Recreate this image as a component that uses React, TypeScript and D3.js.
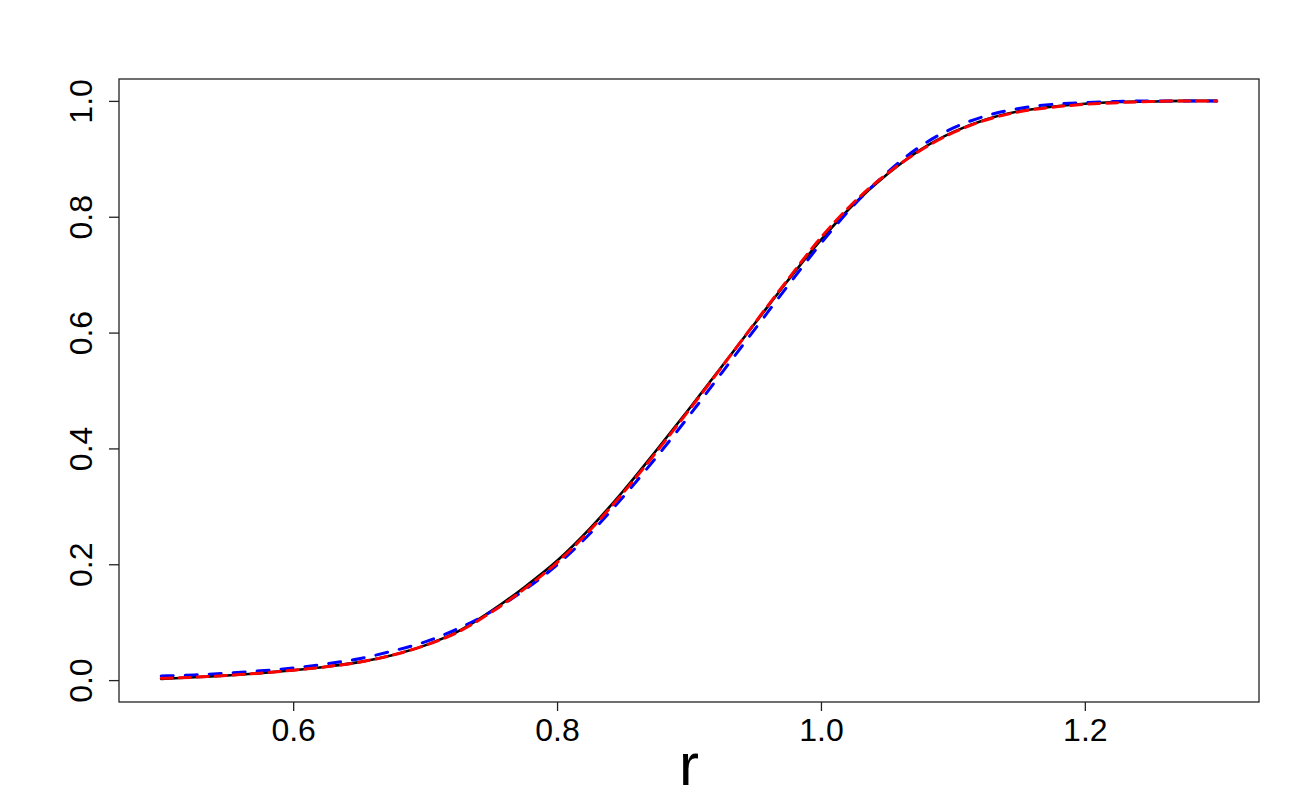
import React, { useEffect, useRef } from 'react'
import * as d3 from 'd3'

// r grid, step 0.025
const rValues = [
  0.5, 0.525, 0.55, 0.575, 0.6, 0.625, 0.65, 0.675, 0.7, 0.725, 0.75, 0.775,
  0.8, 0.825, 0.85, 0.875, 0.9, 0.925, 0.95, 0.975, 1.0, 1.025, 1.05, 1.075,
  1.1, 1.125, 1.15, 1.175, 1.2, 1.225, 1.25, 1.275, 1.3
]

// black solid curve
const blackValues = [
  0.002, 0.005, 0.008, 0.012, 0.017, 0.023, 0.031, 0.043, 0.06, 0.084, 0.119,
  0.16, 0.206, 0.262, 0.326, 0.396, 0.468, 0.542, 0.616, 0.69, 0.76, 0.822,
  0.873, 0.915, 0.946, 0.968, 0.982, 0.99, 0.995, 0.998, 0.999, 1.0, 1.0
]

// red dashed curve
const redValues = [
  0.003, 0.005, 0.008, 0.012, 0.017, 0.023, 0.031, 0.043, 0.06, 0.083, 0.117,
  0.157, 0.203, 0.259, 0.323, 0.393, 0.466, 0.541, 0.617, 0.692, 0.764, 0.825,
  0.874, 0.914, 0.945, 0.967, 0.981, 0.989, 0.994, 0.997, 0.999, 1.0, 1.0
]

// blue dashed curve
const blueValues = [
  0.007, 0.009, 0.012, 0.016, 0.021, 0.028, 0.037, 0.05, 0.066, 0.089, 0.118,
  0.155, 0.199, 0.253, 0.316, 0.384, 0.456, 0.531, 0.606, 0.681, 0.754, 0.82,
  0.876, 0.921, 0.953, 0.974, 0.987, 0.994, 0.997, 0.999, 1.0, 1.0, 1.0
]

const xTicks = [0.6, 0.8, 1.0, 1.2]
const yTicks = [0.0, 0.2, 0.4, 0.6, 0.8, 1.0]

const FONT = '"Liberation Sans", Arial, Helvetica, sans-serif'

export default function App() {
  const ref = useRef<SVGSVGElement>(null)

  useEffect(() => {
    const svg = d3.select(ref.current)
    svg.selectAll('*').remove()

    const left = 119
    const right = 1259
    const top = 79
    const bottom = 702

    const xScale = d3.scaleLinear().domain([0.468, 1.332]).range([left, right])
    const yScale = d3.scaleLinear().domain([-0.0378, 1.0378]).range([bottom, top])

    // curves
    const line = d3
      .line<[number, number]>()
      .x(d => xScale(d[0]))
      .y(d => yScale(d[1]))
      .curve(d3.curveMonotoneX)

    const series = [
      { values: blackValues, color: '#000000', width: 2.6, dash: null },
      { values: blueValues, color: '#0000ff', width: 3, dash: '12,12' },
      { values: redValues, color: '#ff0000', width: 3, dash: '11,7' }
    ]

    series.forEach(s => {
      const pts: [number, number][] = rValues.map((r, i) => [r, s.values[i]])
      svg
        .append('path')
        .attr('d', line(pts))
        .attr('fill', 'none')
        .attr('stroke', s.color)
        .attr('stroke-width', s.width)
        .attr('stroke-linecap', 'round')
        .attr('stroke-linejoin', 'round')
        .attr('stroke-dasharray', s.dash)
    })

    // plot box
    svg
      .append('rect')
      .attr('x', left)
      .attr('y', top)
      .attr('width', right - left)
      .attr('height', bottom - top)
      .attr('fill', 'none')
      .attr('stroke', '#222')
      .attr('stroke-width', 1.3)

    // x axis
    const xAxis = svg
      .append('g')
      .attr('transform', `translate(0, ${bottom})`)
      .call(
        d3
          .axisBottom(xScale)
          .tickValues(xTicks)
          .tickSize(9)
          .tickPadding(0)
          .tickFormat(d3.format('.1f'))
      )
    xAxis.select('.domain').remove()
    xAxis.selectAll('line').attr('stroke', '#222').attr('stroke-width', 1.3)
    xAxis
      .selectAll('text')
      .attr('y', 39)
      .attr('dy', null)
      .attr('fill', '#000')
      .style('font-family', FONT)
      .style('font-size', '32px')

    // y axis
    const yAxis = svg
      .append('g')
      .attr('transform', `translate(${left}, 0)`)
      .call(
        d3
          .axisLeft(yScale)
          .tickValues(yTicks)
          .tickSize(10)
          .tickFormat(d3.format('.1f'))
      )
    yAxis.select('.domain').remove()
    yAxis.selectAll('line').attr('stroke', '#222').attr('stroke-width', 1.3)
    yAxis
      .selectAll('text')
      .attr('x', null)
      .attr('dy', null)
      .attr('text-anchor', 'middle')
      .attr('transform', 'translate(-27, 0) rotate(-90)')
      .attr('fill', '#000')
      .style('font-family', FONT)
      .style('font-size', '32px')

    // axis title
    svg
      .append('text')
      .attr('x', (left + right) / 2)
      .attr('y', 785)
      .attr('text-anchor', 'middle')
      .style('font-family', FONT)
      .style('font-size', '60px')
      .text('r')
  }, [])

  return (
    <svg
      ref={ref}
      width={1300}
      height={800}
      style={{ position: 'absolute', left: 0, top: 0, background: '#fff' }}
    />
  )
}
